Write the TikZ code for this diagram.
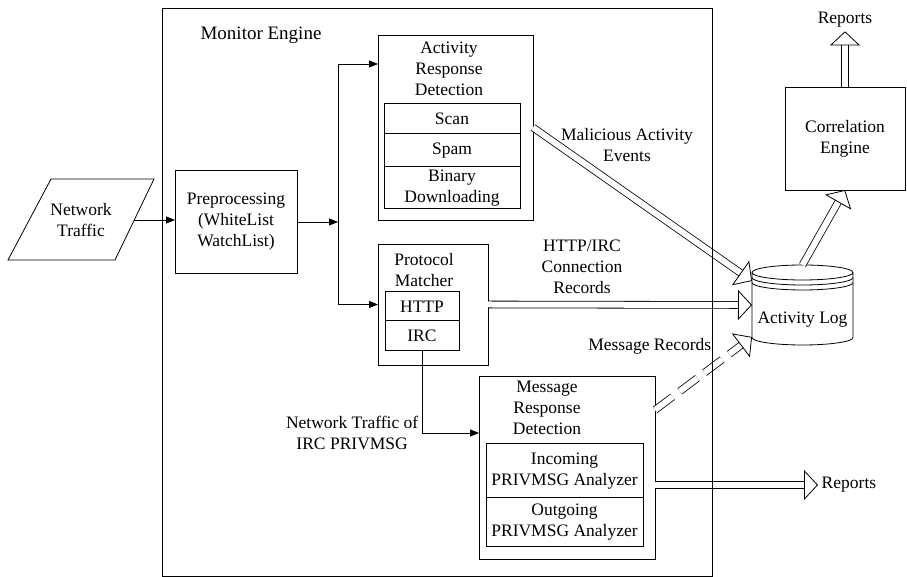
\documentclass[tikz,border=0pt]{standalone}
\usepackage{fontspec}
\setmainfont{Liberation Serif}
\usetikzlibrary{arrows.meta,positioning}

\begin{document}
\begin{tikzpicture}[x=1pt, y=1pt, line width=0.8pt,
		every node/.style={font=\fontsize{17.5}{21}\selectfont, align=center},
		box/.style={draw, inner sep=0pt, outer sep=0pt},
		row/.style={draw, line width=1pt, inner sep=0pt, outer sep=0pt, minimum width=#1},
		flow/.style={-{Triangle[length=9pt, width=7pt]}},
		hollowline/.style={double, double distance=6pt, shorten >=12pt},
		hollowtip/.style={draw=white, -{Triangle[length=14pt, width=30pt, color=black, fill=white]}}
	]
		\useasboundingbox (0,0) rectangle (907,577);
		%
		% input side
		\draw (8,317) -- (51,398) -- (154,398) -- (115,317) -- cycle;
		\node (traffic) at (81,357) {Network\\Traffic};
		\coordinate (trafficout) at (134,357);
		\node[box, minimum width=122pt, minimum height=103pt] (prep) at (236,355) {Preprocessing\\(WhiteList\\WatchList)};
		\coordinate (split) at (338,353);
		%
		% activity response detection
		\node[box, minimum width=155pt, minimum height=185pt] (act) at (455.5,449.5) {};
		\node (acttitle) at (449,508) {Activity\\Response\\Detection};
		\node[row=136pt, minimum height=30pt] (scan) at (452,458) {Scan};
		\node[row=136pt, minimum height=33pt, below=0pt of scan] (spam) {Spam};
		\node[row=136pt, minimum height=42pt, below=0pt of spam] (binary) {Binary\\Downloading};
		%
		% protocol matcher
		\node[box, minimum width=110pt, minimum height=121pt] (prot) at (433,272.5) {};
		\node (prottitle) at (424,307) {Protocol\\Matcher};
		\node[row=74pt, minimum height=29pt] (http) at (422,270.5) {HTTP};
		\node[row=74pt, minimum height=30pt, below=0pt of http] (irc) {IRC};
		%
		% message response detection
		\node[box, minimum width=176pt, minimum height=183pt] (msg) at (567,109.5) {};
		\node (msgtitle) at (547,169) {Message\\Response\\Detection};
		\node[row=157pt, minimum height=54pt] (incoming) at (564.5,106) {Incoming\\PRIVMSG Analyzer};
		\node[row=157pt, minimum height=49pt, below=0pt of incoming] (outgoing) {Outgoing\\PRIVMSG Analyzer};
		%
		% activity log and correlation
		\node[minimum width=101pt, minimum height=80pt, inner sep=0pt, outer sep=0pt] (log) at (802.5,272) {};
		\draw ([yshift=-7.5pt]log.north west) -- ([yshift=7.5pt]log.south west)
			arc[start angle=180, end angle=360, x radius=50.5pt, y radius=7.5pt]
			-- ([yshift=-7.5pt]log.north east)
			arc[start angle=0, end angle=360, x radius=50.5pt, y radius=7.5pt];
		\foreach \dy in {12.5,17.5}
			\draw ([yshift=-\dy*1pt]log.north west) arc[start angle=180, end angle=360, x radius=50.5pt, y radius=7.5pt];
		\node (logtext) at (802.5,257) {Activity Log};
		\node[box, minimum width=120pt, minimum height=103pt] (corr) at (845,438.5) {Correlation\\Engine};
		\node (reptop) at (845,557) {Reports};
		\node[anchor=west] (repright) at (818,92) {Reports};
		%
		% thin connectors
		\draw[flow] (trafficout) -- (prep.west |- trafficout);
		\draw[flow] (prep.east) -- (prep.east -| split);
		\draw[flow] (split) |- ([yshift=-29pt]act.north west);
		\draw[flow] (split) |- (prot.west);
		\draw[flow] (irc.south) |- node[anchor=east, pos=0.5] {Network Traffic of\\IRC PRIVMSG} ([yshift=34.5pt]msg.west);
		%
		% hollow connectors
		\draw[hollowline] (act.east) -- ([yshift=-16pt]log.north west);
		\draw[hollowtip] (act.east) -- ([yshift=-16pt]log.north west);
		\draw[hollowline] (prot.east) -- (log.west);
		\draw[hollowtip] (prot.east) -- (log.west);
		\draw[hollowline, dash pattern=on 22pt off 9pt] ([yshift=-34pt]msg.north east) -- ([yshift=8pt]log.south west);
		\draw[hollowtip] ([yshift=-34pt]msg.north east) -- ([yshift=8pt]log.south west);
		\draw[hollowline] (msg.east |- repright.west) -- (repright.west);
		\draw[hollowtip] (msg.east |- repright.west) -- (repright.west);
		\draw[hollowline] (log.north) -- (corr.south);
		\draw[hollowtip] (log.north) -- (corr.south);
		\draw[hollowline] (corr.north) -- (reptop.south);
		\draw[hollowtip] (corr.north) -- (reptop.south);
		\node (malabel) at (627,432) {Malicious Activity\\Events};
		\node (httplabel) at (582,310) {HTTP/IRC\\Connection\\Records};
		\node[anchor=east] (msglabel) at (715,231) {Message Records};
		%
		% monitor engine frame
		\node[box, minimum width=550pt, minimum height=568pt] (monitor) at (437,285) {};
		\node[font=\fontsize{19}{23}\selectfont] (montitle) at (261,542) {Monitor Engine};
	\end{tikzpicture}
\end{document}
